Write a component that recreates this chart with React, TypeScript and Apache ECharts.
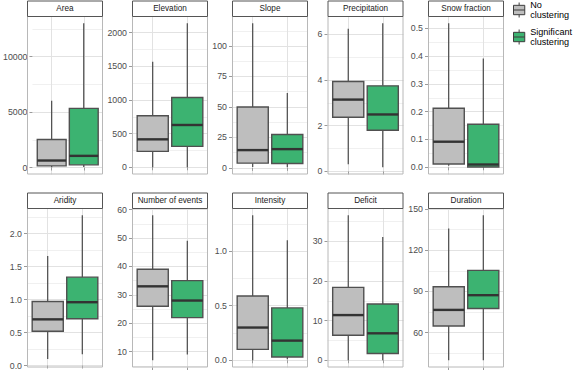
import React, { useEffect, useRef } from "react";
import * as echarts from "echarts";

// ---- data ----
const panelTitles = [
  "Area",
  "Elevation",
  "Slope",
  "Precipitation",
  "Snow fraction",
  "Aridity",
  "Number of events",
  "Intensity",
  "Deficit",
  "Duration",
];

const seriesNames = ["No clustering", "Significant clustering"];

// [lower whisker, Q1, median, Q3, upper whisker]
const noClustering = [
  [20, 150, 630, 2530, 6020],
  [0, 237, 415, 766, 1566],
  [0.8, 3.9, 14.6, 50, 118.7],
  [0.31, 2.37, 3.14, 3.93, 6.24],
  [0.006, 0.012, 0.092, 0.212, 0.518],
  [0.1, 0.52, 0.7, 0.97, 1.66],
  [7, 26, 33, 39, 58],
  [0.0, 0.1, 0.3, 0.59, 1.33],
  [0, 6.3, 11.4, 18.4, 36.6],
  [40, 64.9, 76.6, 93.4, 135.7],
];

const significantClustering = [
  [50, 240, 1050, 5330, 13000],
  [0, 311, 628, 1037, 2139],
  [0.5, 3.6, 15.4, 27.4, 61.4],
  [0.18, 1.8, 2.49, 3.74, 6.48],
  [0, 0.001, 0.01, 0.155, 0.391],
  [0.17, 0.71, 0.96, 1.34, 2.28],
  [9, 22, 28, 35, 49],
  [0.01, 0.03, 0.18, 0.48, 1.1],
  [0, 1.7, 6.8, 14.2, 31.1],
  [40, 77.6, 87.3, 105.3, 145.4],
];

const majorSteps = [5000, 500, 25, 2, 0.1, 0.5, 10, 0.5, 10, 30];
const labelDecimals = [0, 0, 0, 0, 1, 1, 0, 1, 0, 0];

// ---- layout / style ----
const FONT = "'Liberation Sans', Arial, Helvetica, sans-serif";
const colLeft = [27, 132, 232, 327.5, 428];
const panelW = 76;
const rowTop = [16, 208];
const panelH = [158.5, 159.5];
const stripH = 15.5;
const fills = ["#bebebe", "#3cb371"];

const round6 = (v: number) => Math.round(v * 1e6) / 1e6;

function App() {
  const ref = useRef<HTMLDivElement>(null);

  useEffect(() => {
    if (!ref.current) return;
    const chart = echarts.init(ref.current, undefined, { renderer: "svg" });

    const grids: any[] = [];
    const xAxes: any[] = [];
    const yAxes: any[] = [];
    const series: any[] = [];
    const graphics: any[] = [];

    panelTitles.forEach((title, i) => {
      const col = i % 5;
      const row = Math.floor(i / 5);
      const left = colLeft[col];
      const top = rowTop[row];
      const h = panelH[row];

      // y range like ggplot: data range expanded by 5%
      const all = [...noClustering[i], ...significantClustering[i]];
      const lo = Math.min(...all);
      const hi = Math.max(...all);
      const pad = (hi - lo) * 0.05;
      const ymin = lo - pad;
      const ymax = hi + pad;
      const step = majorSteps[i];
      const ticks: number[] = [];
      for (let k = Math.ceil(ymin / step - 1e-9); k * step <= ymax + 1e-9; k++) {
        ticks.push(round6(k * step));
      }

      grids.push({ left, top, width: panelW, height: h, containLabel: false });

      xAxes.push({
        type: "value",
        gridIndex: i,
        min: 0.4,
        max: 2.6,
        minInterval: 1,
        maxInterval: 1,
        axisLine: { show: false },
        axisTick: {
          show: true,
          length: 3,
          customValues: [1, 2],
          lineStyle: { color: "#9a9a9a", width: 1 },
        },
        axisLabel: { show: false },
        splitLine: { show: true, lineStyle: { color: "#e2e2e2", width: 1 } },
      });

      yAxes.push({
        type: "value",
        gridIndex: i,
        min: ymin,
        max: ymax,
        minInterval: step,
        maxInterval: step,
        axisLine: { show: false },
        axisTick: {
          show: true,
          length: 3,
          customValues: ticks,
          lineStyle: { color: "#9a9a9a", width: 1 },
        },
        axisLabel: {
          show: true,
          customValues: ticks,
          formatter: (v: number) => Number(v).toFixed(labelDecimals[i]),
          fontSize: 8.8,
          fontFamily: FONT,
          color: "#4d4d4d",
          margin: 5,
        },
        splitLine: { show: true, lineStyle: { color: "#e2e2e2", width: 1 } },
        minorTick: { show: false, splitNumber: 2 },
        minorSplitLine: { show: true, lineStyle: { color: "#f0f0f0", width: 1 } },
      });

      [noClustering[i], significantClustering[i]].forEach((vals, s) => {
        series.push({
          type: "custom",
          name: seriesNames[s],
          xAxisIndex: i,
          yAxisIndex: i,
          itemStyle: { color: fills[s], borderColor: "#3d3d3d", borderWidth: 1 },
          encode: { x: 0, y: [1, 2, 3, 4, 5] },
          data: [[s + 1, ...vals]],
          z: 5,
          renderItem: (params: any, api: any) => {
            const x = api.value(0);
            const pMin = api.coord([x, api.value(1)]);
            const pQ1 = api.coord([x, api.value(2)]);
            const pMed = api.coord([x, api.value(3)]);
            const pQ3 = api.coord([x, api.value(4)]);
            const pMax = api.coord([x, api.value(5)]);
            const half = api.size([0.9, 0], [x, api.value(3)])[0] / 2;
            const cx = pMed[0];
            return {
              type: "group",
              children: [
                {
                  type: "line",
                  shape: { x1: cx, y1: pMax[1], x2: cx, y2: pQ3[1] },
                  style: { stroke: "#3a3a3a", lineWidth: 1.1 },
                },
                {
                  type: "line",
                  shape: { x1: cx, y1: pQ1[1], x2: cx, y2: pMin[1] },
                  style: { stroke: "#3a3a3a", lineWidth: 1.1 },
                },
                {
                  type: "rect",
                  shape: { x: cx - half, y: pQ3[1], width: half * 2, height: pQ1[1] - pQ3[1] },
                  style: { fill: fills[s], stroke: "#505050", lineWidth: 1.4 },
                },
                {
                  type: "line",
                  shape: { x1: cx - half, y1: pMed[1], x2: cx + half, y2: pMed[1] },
                  style: { stroke: "#333333", lineWidth: 2.4 },
                },
              ],
            };
          },
        });
      });

      // panel border
      graphics.push({
        type: "rect",
        z: 20,
        silent: true,
        shape: { x: left + 0.5, y: top + 0.5, width: panelW - 1, height: h - 1 },
        style: { fill: "none", stroke: "#b8b8b8", lineWidth: 1 },
      });
      // strip
      graphics.push({
        type: "rect",
        z: 21,
        silent: true,
        shape: { x: left + 0.5, y: top - stripH + 0.5, width: panelW - 1, height: stripH },
        style: { fill: "#ffffff", stroke: "#555555", lineWidth: 1 },
      });
      graphics.push({
        type: "text",
        z: 22,
        silent: true,
        x: left + panelW / 2,
        y: top - stripH / 2 + 0.5,
        style: {
          text: title,
          fill: "#1a1a1a",
          font: `8.2px ${FONT}`,
          align: "center",
          verticalAlign: "middle",
        },
      });
    });

    chart.setOption({
      animation: false,
      backgroundColor: "#ffffff",
      textStyle: { fontFamily: FONT },
      grid: grids,
      xAxis: xAxes,
      yAxis: yAxes,
      series,
      legend: {
        orient: "vertical",
        left: 513,
        top: 0,
        padding: 0,
        itemGap: 7,
        itemWidth: 12,
        itemHeight: 15,
        selectedMode: false,
        data: seriesNames,
        icon: "path://M0,4H12V14H0ZM0,9H12M6,1V4M6,14V17",
        itemStyle: { borderColor: "#3d3d3d", borderWidth: 1 },
        formatter: (name: string) => name.replace(" ", "\n"),
        textStyle: {
          fontSize: 9.1,
          lineHeight: 10,
          color: "#000000",
          fontFamily: FONT,
        },
      },
      graphic: graphics,
    });

    return () => chart.dispose();
  }, []);

  return (
    <div
      ref={ref}
      style={{ position: "absolute", left: 0, top: 0, width: 575, height: 370 }}
    />
  );
}

export default App;
